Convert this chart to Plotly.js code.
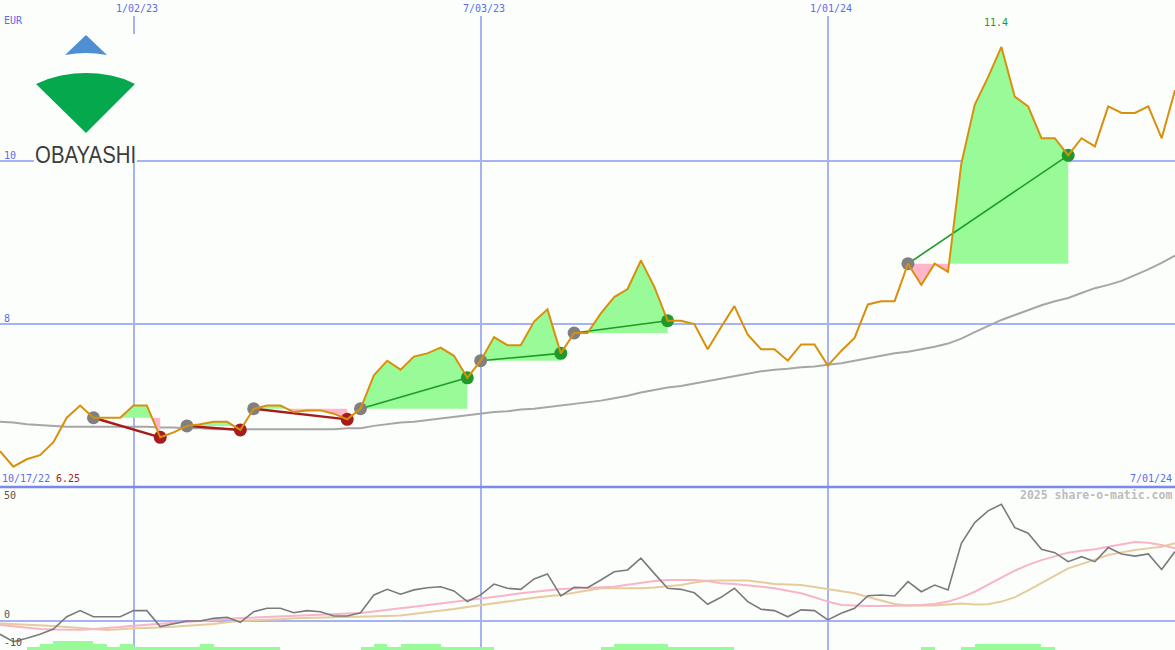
<!DOCTYPE html>
<html>
<head>
<meta charset="utf-8">
<script src="https://cdn.plot.ly/plotly-3.0.1.min.js"></script>
<style>
  html, body { margin: 0; padding: 0; background: #fcfefc; }
  #chart { width: 1175px; height: 650px; }
</style>
</head>
<body>
<div id="chart"></div>
<script>
// Weekly closes, Obayashi (EUR), starting Monday 2022-10-24
const firstWeek = '2022-10-24';
const closePrice = [
  6.44, 6.25, 6.34, 6.39, 6.55, 6.85, 7.00, 6.85, 6.85, 6.85,
  7.00, 7.00, 6.61, 6.67, 6.75, 6.77, 6.80, 6.80, 6.70, 6.96,
  7.00, 7.00, 6.92, 6.94, 6.94, 6.90, 6.83, 6.96, 7.37, 7.55,
  7.44, 7.60, 7.64, 7.71, 7.61, 7.34, 7.55, 7.84, 7.74, 7.74,
  8.03, 8.18, 7.64, 7.89, 7.89, 8.13, 8.33, 8.43, 8.78, 8.46,
  8.04, 8.04, 8.00, 7.69, 7.96, 8.22, 7.87, 7.69, 7.69, 7.55,
  7.75, 7.75, 7.49, 7.67, 7.83, 8.24, 8.28, 8.28, 8.74, 8.48,
  8.74, 8.64, 9.97, 10.69, 11.03, 11.40, 10.79, 10.67, 10.28, 10.28,
  10.07, 10.28, 10.18, 10.67, 10.59, 10.59, 10.67, 10.28, 10.87
];
// Long moving average of the close
const movingAvg = [
  6.80, 6.79, 6.77, 6.76, 6.75, 6.74, 6.74, 6.74, 6.74, 6.74,
  6.74, 6.74, 6.73, 6.73, 6.72, 6.72, 6.71, 6.71, 6.71, 6.71,
  6.71, 6.71, 6.71, 6.71, 6.71, 6.71, 6.72, 6.72, 6.75, 6.77,
  6.79, 6.80, 6.82, 6.84, 6.86, 6.88, 6.90, 6.92, 6.93, 6.95,
  6.96, 6.98, 7.00, 7.02, 7.04, 7.06, 7.09, 7.12, 7.16, 7.19,
  7.22, 7.24, 7.27, 7.30, 7.33, 7.36, 7.39, 7.42, 7.44, 7.45,
  7.47, 7.48, 7.50, 7.52, 7.55, 7.58, 7.61, 7.64, 7.66, 7.69,
  7.72, 7.76, 7.82, 7.90, 7.98, 8.05, 8.11, 8.17, 8.23, 8.28,
  8.32, 8.38, 8.44, 8.48, 8.53, 8.60, 8.67, 8.75, 8.84
];
// Momentum oscillator and its two smoothings
const momentum = [
  -5.0, -7.8, -6.5, -5.0, -3.0, 1.6, 3.9, 1.6, 1.6, 1.6,
  3.9, 3.9, -2.1, -1.1, 0.0, 0.0, 1.0, 1.4, -0.5, 3.5,
  4.8, 4.8, 3.1, 3.9, 3.5, 1.9, 1.9, 3.1, 9.8, 11.9,
  10.1, 11.7, 12.5, 12.9, 11.3, 7.3, 9.8, 13.9, 12.3, 11.9,
  15.8, 17.7, 9.4, 12.7, 12.5, 15.4, 18.5, 19.2, 23.6, 17.9,
  12.3, 11.9, 10.6, 6.3, 8.9, 12.3, 7.3, 4.4, 3.9, 1.6,
  4.2, 3.9, 0.4, 2.9, 4.8, 9.5, 9.8, 9.4, 14.8, 11.0,
  13.5, 11.7, 29.2, 37.0, 41.4, 43.9, 35.1, 33.0, 27.0, 25.7,
  22.3, 24.2, 22.3, 27.6, 25.2, 24.4, 25.2, 19.4, 26.1
];
const momentumFast = [
  -1.5, -2.0, -2.5, -3.0, -3.2, -3.3, -3.3, -3.0, -2.7, -2.3,
  -1.8, -1.4, -1.0, -0.6, -0.2, 0.1, 0.4, 0.8, 1.1, 1.3,
  1.6, 1.8, 2.0, 2.2, 2.3, 2.5, 2.7, 3.0, 3.6, 4.3,
  4.8, 5.4, 6.0, 6.6, 7.2, 7.7, 8.3, 9.0, 9.7, 10.4,
  11.0, 11.5, 12.0, 12.2, 12.4, 12.6, 12.9, 13.6, 14.4, 15.0,
  15.4, 15.4, 15.4, 15.0, 14.2, 13.9, 13.5, 12.9, 12.3, 11.4,
  10.4, 8.9, 7.3, 6.0, 5.7, 5.6, 5.6, 5.6, 5.8, 6.0,
  6.4, 7.3, 8.9, 11.0, 13.5, 16.3, 18.9, 21.1, 22.9, 24.4,
  25.7, 26.4, 27.0, 27.9, 28.9, 29.7, 29.4, 28.6, 27.3
];
const momentumSlow = [
  -0.9, -1.1, -1.3, -1.5, -1.9, -2.3, -2.7, -3.0, -3.4, -3.1,
  -2.7, -2.6, -2.5, -2.2, -1.8, -1.5, -1.1, -0.5, 0.1, 0.3,
  0.4, 0.7, 1.0, 1.1, 1.2, 1.4, 1.6, 1.6, 1.6, 1.9,
  2.1, 2.7, 3.2, 3.8, 4.5, 5.3, 6.0, 6.7, 7.5, 8.2,
  8.7, 9.3, 9.8, 10.6, 11.5, 12.3, 12.3, 12.3, 12.3, 12.6,
  13.0, 13.5, 14.5, 15.1, 15.2, 15.2, 15.2, 14.6, 13.9, 13.7,
  13.5, 12.8, 12.0, 11.2, 10.4, 9.0, 7.6, 6.4, 5.8, 5.8,
  5.8, 6.2, 6.6, 6.2, 6.3, 7.3, 8.9, 11.5, 14.2, 17.0,
  19.8, 21.4, 23.1, 24.8, 25.8, 26.7, 27.3, 27.9, 29.2
];
// Weekly signal strength (0 = none, 3 = strongest)
const signalLevel = [
  0, 0, 1, 2, 3, 3, 3, 2, 1, 2,
  1, 1, 1, 1, 1, 2, 1, 1, 1, 1,
  1, 0, 0, 0, 0, 0, 0, 1, 2, 1,
  2, 2, 2, 1, 1, 1, 1, 0, 0, 0,
  0, 0, 0, 0, 0, 1, 2, 2, 2, 2,
  1, 1, 1, 1, 1, 0, 0, 0, 0, 0,
  0, 0, 0, 0, 0, 0, 0, 0, 0, 1,
  0, 0, 1, 2, 2, 2, 2, 2, 1, 0,
  0, 0, 0, 0, 0, 0, 0, 0, 0
];
// Trades: week index of entry and exit
const tradeEntry = [7, 14, 19, 27, 36, 43, 68];
const tradeExit  = [12, 18, 26, 35, 42, 50, 80];

const dateTicks = ['2023-01-02', '2023-07-03', '2024-01-01'];
const dateTickText = ['1/02/23', '7/03/23', '1/01/24'];
const lastWeek = '2024-07-01';
const priceTicks = [10, 8];
const oscTickText = ['50', '0', '-10'];
const currency = 'EUR';
const rangeStartLabel = '10/17/22';
const rangeEndLabel = '7/01/24';
const lowLabel = '6.25';
const highLabel = '11.4';
const creditText = '2025 share-o-matic.com';
const companyName = 'OBAYASHI';

// ---- styling ----
const W = 1175, H = 650;
const BG = '#fcfefc';
const GRID = '#a6b3f2';
const AXIS_BLUE = '#5b6cf0';
const MONO = 'DejaVu Sans Mono, monospace';
const PRICE_C = '#d8900c';
const MA_C = '#a6a6a6';
const UP_FILL = '#98fb98';
const DOWN_FILL = '#ffb6c8';
const WIN_C = '#1e9a28';
const LOSS_C = '#a41c1c';
const ENTRY_C = '#808080';

const DAY = 86400000;
const t0 = Date.parse(firstWeek + 'T00:00:00Z');
const weeks = closePrice.map((_, i) => t0 + i * 7 * DAY);
const ms = s => Date.parse(s + 'T00:00:00Z');

const traces = [];

// long moving average (under everything else)
traces.push({
  x: weeks, y: movingAvg, xaxis: 'x2', yaxis: 'y2', type: 'scatter', mode: 'lines',
  line: { color: MA_C, width: 2 }, hoverinfo: 'skip'
});

// profit / loss areas of each trade, measured against the entry close
tradeEntry.forEach((a, k) => {
  const b = tradeExit[k];
  const level = closePrice[a];
  const xs = [], up = [], dn = [];
  for (let i = a; i <= b; i++) {
    if (i > a) {
      const p0 = closePrice[i - 1] - level, p1 = closePrice[i] - level;
      if (p0 * p1 < 0) {
        const f = p0 / (p0 - p1);
        xs.push(weeks[i - 1] + f * (weeks[i] - weeks[i - 1]));
        up.push(level); dn.push(level);
      }
    }
    xs.push(weeks[i]);
    up.push(Math.max(closePrice[i], level));
    dn.push(Math.min(closePrice[i], level));
  }
  const base = { x: [weeks[a], weeks[b]], y: [level, level], xaxis: 'x2', yaxis: 'y2',
    type: 'scatter', mode: 'lines', line: { width: 0 }, hoverinfo: 'skip' };
  traces.push(base);
  traces.push({ x: xs, y: up, xaxis: 'x2', yaxis: 'y2', type: 'scatter', mode: 'lines',
    line: { width: 0 }, fill: 'tonexty', fillcolor: UP_FILL, hoverinfo: 'skip' });
  traces.push(Object.assign({}, base));
  traces.push({ x: xs, y: dn, xaxis: 'x2', yaxis: 'y2', type: 'scatter', mode: 'lines',
    line: { width: 0 }, fill: 'tonexty', fillcolor: DOWN_FILL, hoverinfo: 'skip' });
});

// entry-to-exit lines
tradeEntry.forEach((a, k) => {
  const b = tradeExit[k];
  const win = closePrice[b] > closePrice[a];
  traces.push({
    x: [weeks[a], weeks[b]], y: [closePrice[a], closePrice[b]], xaxis: 'x2', yaxis: 'y2',
    type: 'scatter', mode: 'lines', line: { color: win ? WIN_C : LOSS_C, width: win ? 1.6 : 2.4 },
    hoverinfo: 'skip'
  });
});

// entry and exit markers
traces.push({
  x: tradeEntry.map(i => weeks[i]), y: tradeEntry.map(i => closePrice[i]),
  xaxis: 'x2', yaxis: 'y2', type: 'scatter', mode: 'markers',
  marker: { color: ENTRY_C, size: 13, line: { width: 0 } }, hoverinfo: 'skip'
});
traces.push({
  x: tradeExit.map(i => weeks[i]), y: tradeExit.map(i => closePrice[i]),
  xaxis: 'x2', yaxis: 'y2', type: 'scatter', mode: 'markers',
  marker: {
    color: tradeExit.map((b, k) => closePrice[b] > closePrice[tradeEntry[k]] ? WIN_C : LOSS_C),
    size: 13, line: { width: 0 }
  }, hoverinfo: 'skip'
});

// weekly close
traces.push({
  x: weeks, y: closePrice, xaxis: 'x2', yaxis: 'y2', type: 'scatter', mode: 'lines',
  line: { color: PRICE_C, width: 2 }, hoverinfo: 'skip'
});

// lower panel: signal bars
traces.push({
  x: weeks, y: signalLevel, xaxis: 'x', yaxis: 'y3', type: 'bar',
  width: 7 * DAY, offset: 0, marker: { color: UP_FILL, line: { width: 0 } }, hoverinfo: 'skip'
});
// oscillator lines
traces.push({ x: weeks, y: momentumSlow, xaxis: 'x', yaxis: 'y', type: 'scatter', mode: 'lines',
  line: { color: '#e4cc9c', width: 2 }, hoverinfo: 'skip' });
traces.push({ x: weeks, y: momentumFast, xaxis: 'x', yaxis: 'y', type: 'scatter', mode: 'lines',
  line: { color: '#f8b4c8', width: 2 }, hoverinfo: 'skip' });
traces.push({ x: weeks, y: momentum, xaxis: 'x', yaxis: 'y', type: 'scatter', mode: 'lines',
  line: { color: '#7a7a7a', width: 1.6 }, hoverinfo: 'skip' });

// ---- layout ----
const py = p => 1 - p / H;   // pixel row -> paper
const px = p => p / W;       // pixel column -> paper
const path = pts => pts.map((c, i) => (i ? 'L' : 'M') + px(c[0]) + ',' + py(c[1])).join(' ') + ' Z';

const xCommon = {
  type: 'date', range: [ms(firstWeek), ms(lastWeek)],
  tickvals: dateTicks.map(ms), showticklabels: false, ticks: '',
  showgrid: true, gridcolor: GRID, gridwidth: 2, zeroline: false, showline: false, fixedrange: true
};

const annotations = [];
const txt = (text, x, y, opt) => annotations.push(Object.assign({
  text, x, y, xref: 'paper', yref: 'paper', showarrow: false,
  font: { family: MONO, size: 10, color: AXIS_BLUE }, xanchor: 'left', yanchor: 'middle', borderpad: 0
}, opt || {}));

// date labels above the price panel
dateTicks.forEach((d, i) => annotations.push({
  text: dateTickText[i], x: ms(d), xref: 'x2', y: py(8), yref: 'paper', yanchor: 'middle',
  xanchor: 'center', xshift: 3, showarrow: false, borderpad: 0,
  font: { family: MONO, size: 10, color: AXIS_BLUE }
}));
txt(currency, px(3), py(20));
priceTicks.forEach(v => annotations.push({
  text: String(v), x: px(3), xref: 'paper', y: v, yref: 'y2', yanchor: 'bottom', xanchor: 'left',
  showarrow: false, borderpad: 0, yshift: -1, font: { family: MONO, size: 10, color: AXIS_BLUE }
}));
txt(rangeStartLabel, px(1), py(478));
txt(lowLabel, px(55), py(478), { font: { family: MONO, size: 10, color: LOSS_C } });
txt(rangeEndLabel, px(1173), py(478), { xanchor: 'right' });
annotations.push({
  text: highLabel, x: weeks[closePrice.indexOf(Math.max(...closePrice))], xref: 'x2',
  y: py(22), yref: 'paper', xanchor: 'center', yanchor: 'middle', xshift: -5, showarrow: false,
  borderpad: 0, font: { family: MONO, size: 10, color: WIN_C }
});
txt(creditText, px(1173), py(495), { xanchor: 'right',
  font: { family: MONO, size: 11.5, color: '#bcbcbc', weight: 'bold' } });
txt(oscTickText[0], px(3), py(495), { font: { family: MONO, size: 10, color: '#555555' } });
txt(oscTickText[1], px(3), py(614), { font: { family: MONO, size: 10, color: '#555555' } });
txt(oscTickText[2], px(3), py(642), { font: { family: MONO, size: 10, color: '#555555' } });
txt(companyName, px(85.5), py(154), { xanchor: 'center',
  font: { family: 'Liberation Sans, Arial, sans-serif', size: 24, color: '#3c3c3c' }
});

const shapes = [
  // panel separator
  { type: 'line', xref: 'paper', yref: 'paper', x0: 0, x1: 1, y0: py(487), y1: py(487),
    line: { color: '#7a89ef', width: 2.5 }, layer: 'above' },
  // logo backdrop
  { type: 'rect', xref: 'paper', yref: 'paper', x0: px(34), x1: px(137), y0: py(163), y1: py(34),
    fillcolor: BG, line: { width: 0 }, layer: 'above' },
  // logo: blue peak
  { type: 'path', xref: 'paper', yref: 'paper', layer: 'above',
    path: path([[86, 35], [107, 55], [96, 53.5], [86, 53], [76, 53.5], [65, 55]]),
    fillcolor: '#4d8fd2', line: { width: 0 } },
  // logo: green fan
  { type: 'path', xref: 'paper', yref: 'paper', layer: 'above',
    path: path([[36, 84], [48, 79], [61, 75.5], [74, 73.5], [86, 73], [98, 73.5], [111, 75.5], [124, 79], [135, 84], [86, 133]]),
    fillcolor: '#05a84c', line: { width: 0 } }
];

const layout = {
  width: W, height: H, margin: { l: 0, r: 0, t: 0, b: 0, pad: 0 },
  paper_bgcolor: BG, plot_bgcolor: BG, showlegend: false, hovermode: false, bargap: 0,
  xaxis: Object.assign({ anchor: 'y', domain: [0, 1] }, xCommon),
  xaxis2: Object.assign({ anchor: 'y2', domain: [0, 1], matches: 'x' }, xCommon),
  yaxis: { domain: [0, py(488)], range: [-10.9, 50], tickvals: [0], showticklabels: false,
    ticks: '', showgrid: true, gridcolor: GRID, gridwidth: 2, zeroline: false, fixedrange: true },
  yaxis3: { overlaying: 'y', range: [0, 54], visible: false, fixedrange: true },
  yaxis2: { domain: [py(487), py(16)], range: [6.0, 11.78], tickvals: priceTicks, showticklabels: false,
    ticks: '', showgrid: true, gridcolor: GRID, gridwidth: 2, zeroline: false, fixedrange: true },
  annotations, shapes
};

Plotly.newPlot('chart', traces, layout, { staticPlot: true, displayModeBar: false }).then(gd => {
  // the word mark is set tightly, like the company logotype
  gd.querySelectorAll('text.annotation-text').forEach(t => {
    if (t.textContent === companyName) {
      t.setAttribute('textLength', '101');
      t.setAttribute('lengthAdjust', 'spacingAndGlyphs');
    }
  });
});
</script>
</body>
</html>
